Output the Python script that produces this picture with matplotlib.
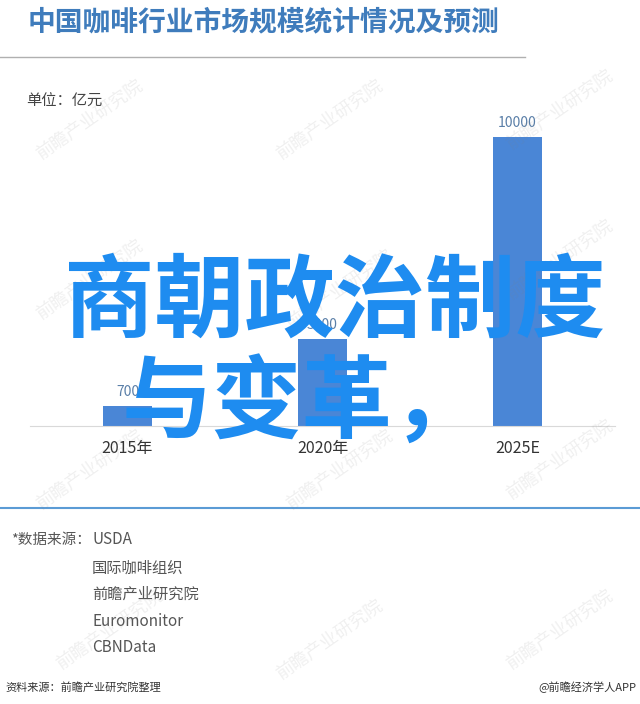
import matplotlib.pyplot as plt

plt.rcParams['font.family'] = ['Noto Sans CJK SC', 'DejaVu Sans']

# data
years = ['2015年', '2020年', '2025E']
sizes = [700, 3000, 10000]
sources = ['USDA', '国际咖啡组织', '前瞻产业研究院', 'Euromonitor', 'CBNData']

W, H = 640, 704
fig = plt.figure(figsize=(W / 100, H / 100), dpi=100)
fig.patch.set_facecolor('white')


def fx(px):
    return px / W


def fy(py):
    return 1 - py / H


# faint watermarks
for (wx, wy) in [(90, 120), (330, 120), (560, 110), (90, 280), (340, 290), (560, 260),
                 (90, 470), (340, 470), (560, 460), (110, 630), (330, 640), (560, 630)]:
    fig.text(fx(wx), fy(wy), '前瞻产业研究院', fontsize=13, color='#808080',
             alpha=0.12, rotation=35, ha='center', va='center', zorder=5)

# title
fig.text(fx(28), fy(22), '中国咖啡行业市场规模统计情况及预测', fontsize=20,
         fontweight='bold', color='#3f7cbc', ha='left', va='center')
fig.add_artist(plt.Line2D([0, fx(525)], [fy(57), fy(57)], color='#b0b0b0', lw=1))
fig.text(fx(26), fy(101), '单位：亿元', fontsize=11, color='#444444',
         ha='left', va='center')

# bar chart
ymax = 11000
top_px = 426 - 289 / 10000 * ymax
ax = fig.add_axes([fx(30), fy(426), fx(615) - fx(30), (426 - top_px) / H])
ax.set_facecolor('none')
x = range(len(years))
ax.bar(x, sizes, width=0.256, color='#4a86d6', zorder=2)
for i, v in enumerate(sizes):
    ax.text(i, v + 250, str(v), ha='center', va='bottom', fontsize=10,
            color='#5a7fa8')
ax.set_xlim(-0.5, 2.5)
ax.set_ylim(0, ymax)
ax.set_xticks(list(x))
ax.set_xticklabels(years, fontsize=11.5, color='#333333')
ax.tick_params(axis='x', length=0, pad=10)
ax.set_yticks([])
for s in ['top', 'right', 'left']:
    ax.spines[s].set_visible(False)
ax.spines['bottom'].set_color('#d9d9d9')

# separator
fig.add_artist(plt.Line2D([0, 1], [fy(508), fy(508)], color='#5b9bd5', lw=1.5))

# sources
fig.text(fx(91), fy(540), '*数据来源：', fontsize=10.5, color='#555555',
         ha='right', va='center')
src_y = [540, 568, 594, 622, 648]
for s, sy in zip(sources, src_y):
    fig.text(fx(92), fy(sy), s, fontsize=11, color='#555555', ha='left',
             va='center')

fig.text(fx(5), fy(687), '资料来源：前瞻产业研究院整理', fontsize=8,
         color='#333333', style='italic', ha='left', va='center')
fig.text(fx(636), fy(687), '@前瞻经济学人APP', fontsize=8, color='#333333',
         ha='right', va='center')

# overlay text
fig.text(fx(335), fy(303), '商朝政治制度', fontsize=65, color='#1e8cf0',
         ha='center', va='center', fontweight='bold', zorder=10)
fig.text(fx(122), fy(405), '与变革，', fontsize=65, color='#1e8cf0',
         ha='left', va='center', fontweight='bold', zorder=10)

fig.savefig('out.png', dpi=100)
